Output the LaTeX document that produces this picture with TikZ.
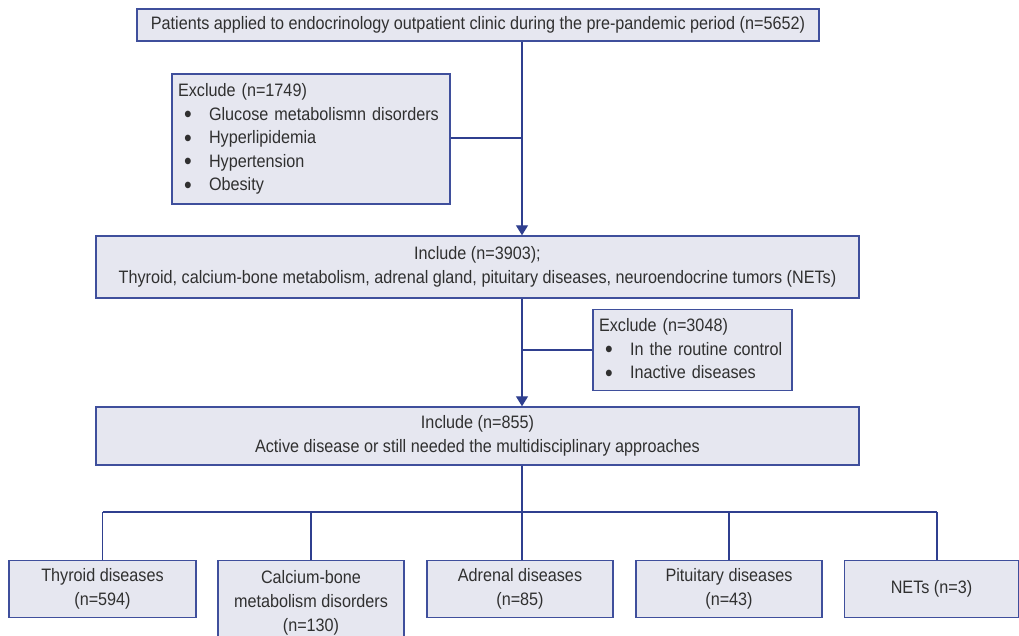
\documentclass[tikz,border=0pt]{standalone}
\usepackage{fontspec}
\setmainfont{Liberation Sans}[FakeStretch=0.9]
\usetikzlibrary{arrows.meta}
\definecolor{boxfill}{HTML}{E6E7F0}
\definecolor{boxline}{HTML}{3F4F9C}
\definecolor{conn}{HTML}{2F3F8F}
\definecolor{txt}{HTML}{303030}
\newcommand{\bul}{\hspace*{6pt}\makebox[25pt][l]{\raisebox{-0.25ex}{\scalebox{1.35}{\textbullet}}}}
\begin{document}
\begin{tikzpicture}[x=1pt,y=-1pt,
  boxstyle/.style={draw=boxline, fill=boxfill, line width=1.4pt, rectangle, inner sep=0pt, text=txt,
     font=\fontsize{18}{23.5}\selectfont},
  connector/.style={draw=conn, line width=1.3pt},
  arrowed/.style={connector, -{Triangle[width=12pt,length=10pt]}}]
\clip (0,0) rectangle (1019,636);
\useasboundingbox (0,0) rectangle (1019,636);
% boxes
\node[boxstyle, minimum width=682pt, minimum height=32pt] (top) at (478,25) {Patients applied to endocrinology outpatient clinic during the pre-pandemic period (n=5652)};
\node[boxstyle, minimum width=278pt, minimum height=130pt, text width=266pt, align=left] (exc1) at (311,139)
 {Exclude (n=1749)\\ \bul Glucose metabolismn disorders\\ \bul Hyperlipidemia\\ \bul Hypertension\\ \bul Obesity};
\node[boxstyle, minimum width=763pt, minimum height=62pt, align=center] (inc1) at (477.5,267)
 {Include (n=3903);\\ Thyroid, calcium-bone metabolism, adrenal gland, pituitary diseases, neuroendocrine tumors (NETs)};
\node[boxstyle, minimum width=199pt, minimum height=81pt, text width=187pt, align=left] (exc2) at (692.5,350)
 {Exclude (n=3048)\\ \bul In the routine control\\ \bul Inactive diseases};
\node[boxstyle, minimum width=763pt, minimum height=58pt, align=center] (inc2) at (477.5,436)
 {Include (n=855)\\ Active disease or still needed the multidisciplinary approaches};
\node[boxstyle, minimum width=187pt, minimum height=57pt, align=center] (b1) at (102.5,589)
 {Thyroid diseases\\ (n=594)};
\node[boxstyle, minimum width=186pt, minimum height=90pt, align=center, anchor=north] (b2) at (311,559.5)
 {};
\node[text=txt, font=\fontsize{18}{24}\selectfont, align=center] (b2t) at (311,603)
 {Calcium-bone\\ metabolism disorders\\ (n=130)};
\node[boxstyle, minimum width=186pt, minimum height=57pt, align=center] (b3) at (520,589)
 {Adrenal diseases\\ (n=85)};
\node[boxstyle, minimum width=186pt, minimum height=57pt, align=center] (b4) at (729,589)
 {Pituitary diseases\\ (n=43)};
\node[boxstyle, minimum width=174pt, minimum height=57pt, align=center] (b5) at (931.5,589)
 {NETs (n=3)};
% spine coordinates
\coordinate (sp) at (522,0);
\coordinate (bar) at (0,512);
\coordinate (j1) at (522,138);
\coordinate (j2) at (522,350);
% connectors
\draw[arrowed] (top.south -| sp) -- (inc1.north -| sp);
\draw[connector] (exc1.east |- j1) -- (j1);
\draw[arrowed] (inc1.south -| sp) -- (inc2.north -| sp);
\draw[connector] (exc2.west |- j2) -- (j2);
\draw[connector] (inc2.south -| sp) -- (bar -| sp);
\draw[connector] (bar -| b1) -- (bar -| 937,0);
\draw[connector] (bar -| b1) -- (b1.north);
\draw[connector] (bar -| b2) -- (b2.north);
\draw[connector] (bar -| 522,0) -- (b3.north -| 522,0);
\draw[connector] (bar -| b4) -- (b4.north);
\draw[connector] (bar -| 937,0) -- (b5.north -| 937,0);
\end{tikzpicture}
\end{document}
